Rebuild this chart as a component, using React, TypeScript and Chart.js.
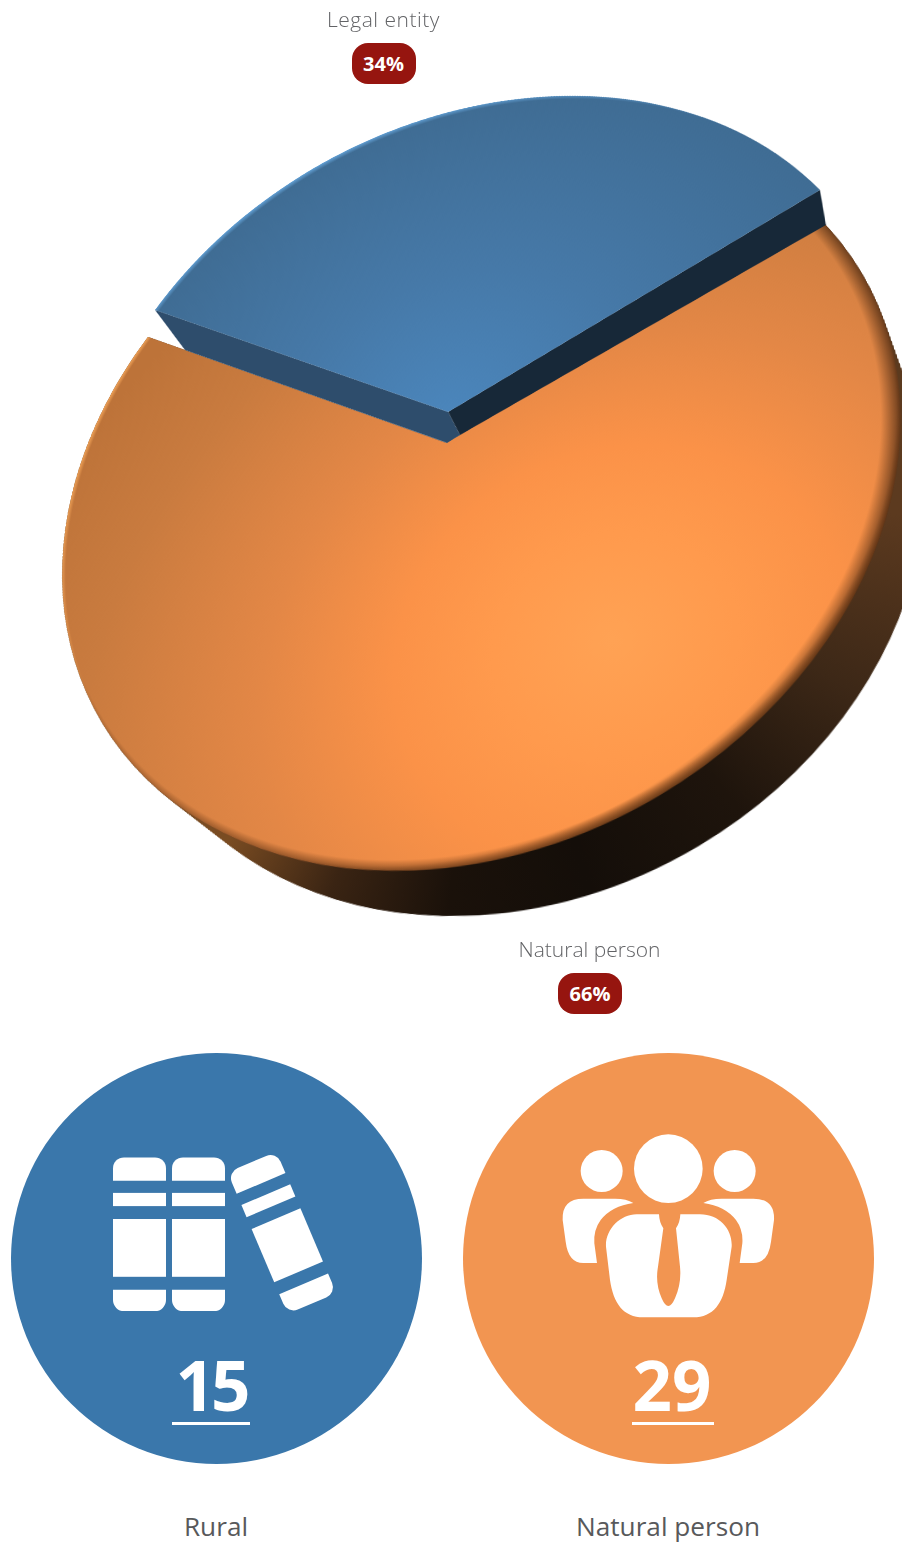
import React, { useEffect, useRef } from "react";
import { Chart, registerables } from "chart.js";

Chart.register(...registerables);

// Pie data
const pieCategories = ["Legal entity", "Natural person"];
const pieShares = [34, 66];
// Summary tiles
const statLabels = ["Rural", "Natural person"];
const statValues = [15, 29];

const FONT = '"Open Sans", "Noto Sans", sans-serif';
const BLUE = "#3a77ab";
const ORANGE = "#f29551";
const PILL = "#96150f";

// Off-screen drawing surface of each pie layer
const SURFACE = 1400;
const RADIUS = 500;
const MID = SURFACE / 2;

type Pt = [number, number];

// Where four rim points of the disc land on the page: rim A, rim B and their opposites
const ORANGE_RIM: Pt[] = [[148, 337], [820, 219], [858, 589], [76, 665]];
const BLUE_RIM: Pt[] = [[155, 310], [820, 190], [851, 552], [93, 624]];

// Solves the plane projection that takes the src points to the dst points
function projection(src: Pt[], dst: Pt[]): number[] {
  const m: number[][] = [];
  src.forEach(([x, y], i) => {
    const [u, v] = dst[i];
    m.push([x, y, 1, 0, 0, 0, -u * x, -u * y, u]);
    m.push([0, 0, 0, x, y, 1, -v * x, -v * y, v]);
  });
  for (let c = 0; c < 8; c++) {
    let p = c;
    for (let r = c + 1; r < 8; r++) if (Math.abs(m[r][c]) > Math.abs(m[p][c])) p = r;
    [m[c], m[p]] = [m[p], m[c]];
    for (let r = 0; r < 8; r++) {
      if (r === c) continue;
      const f = m[r][c] / m[c][c];
      for (let k = c; k < 9; k++) m[r][k] -= f * m[c][k];
    }
  }
  return m.map((row, i) => row[8] / row[i]);
}

const apply = (h: number[], [x, y]: Pt): Pt => {
  const w = h[6] * x + h[7] * y + 1;
  return [(h[0] * x + h[1] * y + h[2]) / w, (h[3] * x + h[4] * y + h[5]) / w];
};

// Surface positions of the two cut edges and their opposites, from the data
const halfSweep = ((pieShares[0] / (pieShares[0] + pieShares[1])) * 2 * Math.PI) / 2;
const discPoints: Pt[] = [
  [MID - RADIUS * Math.sin(halfSweep), MID - RADIUS * Math.cos(halfSweep)],
  [MID + RADIUS * Math.sin(halfSweep), MID - RADIUS * Math.cos(halfSweep)],
  [MID + RADIUS * Math.sin(halfSweep), MID + RADIUS * Math.cos(halfSweep)],
  [MID - RADIUS * Math.sin(halfSweep), MID + RADIUS * Math.cos(halfSweep)],
];

const orangeH = projection(discPoints, ORANGE_RIM);
const orangeInv = projection(ORANGE_RIM, discPoints);
const blueH = projection(discPoints, BLUE_RIM);
const blueInv = projection(BLUE_RIM, discPoints);

const matrix3d = (h: number[]) =>
  `matrix3d(${h[0]},${h[3]},0,${h[6]},${h[1]},${h[4]},0,${h[7]},0,0,1,0,${h[2]},${h[5]},0,1)`;

// Thickness of the disc: the underside sits lower and slightly smaller than the top
const wallFrom = apply(orangeInv, [478, 525]);
const wallTo = apply(orangeInv, [520, 581]);
const WALL_SCALE = 0.92;

// Wall colour by clockwise angle from the top of the disc
const WALL_STOPS: [number, string][] = [
  [0, "#5a3a1e"], [60, "#5a3a1e"], [100, "#5c3a1f"], [125, "#3d2817"],
  [145, "#1e140c"], [165, "#140e09"], [182, "#1a110a"], [198, "#3a2413"], [215, "#7a4c22"], [360, "#5a3a1e"],
];

const sharedOptions = {
  responsive: false,
  animation: false as const,
  devicePixelRatio: 1,
  layout: { padding: MID - RADIUS },
  rotation: (-halfSweep * 180) / Math.PI,
  plugins: { legend: { display: false }, tooltip: { enabled: false } },
  events: [],
};

const NONE = "rgba(0,0,0,0)";

function rim(ctx: CanvasRenderingContext2D, dx: number, dy: number, inner: number, color: string) {
  const r = RADIUS + Math.hypot(dx, dy) + 1;
  const g = ctx.createRadialGradient(MID + dx, MID + dy, 0, MID + dx, MID + dy, r);
  g.addColorStop(0, color.replace(/[\d.]+\)$/, "0)"));
  g.addColorStop(inner, color.replace(/[\d.]+\)$/, "0)"));
  g.addColorStop(1, color);
  ctx.fillStyle = g;
  ctx.fillRect(0, 0, SURFACE, SURFACE);
}

// Side of the disc: the orange slice repeated from the top face down to the underside
const wallPlugin = {
  id: "wallStack",
  beforeDatasetsDraw(chart: any) {
    const ctx = chart.ctx;
    const arc = chart.getDatasetMeta(0).data[1];
    const steps = 90;
    for (let i = 1; i <= steps; i++) {
      const t = i / steps;
      const s = 1 + t * (WALL_SCALE - 1);
      ctx.save();
      ctx.translate(wallFrom[0] + t * (wallTo[0] - wallFrom[0]), wallFrom[1] + t * (wallTo[1] - wallFrom[1]));
      ctx.scale(s, s);
      ctx.translate(-wallFrom[0], -wallFrom[1]);
      arc.draw(ctx);
      ctx.restore();
    }
  },
};

// Lighting on the orange top: falloff is in the fill, rims are painted on top
const orangeShade = {
  id: "orangeShade",
  afterDatasetsDraw(chart: any) {
    const ctx = chart.ctx;
    ctx.save();
    ctx.globalCompositeOperation = "source-atop";
    rim(ctx, -16, -2, 0.96, "rgba(45,22,6,0.7)");
    rim(ctx, -4, -12, 0.975, "rgba(70,35,10,0.65)");
    rim(ctx, 12, 4, 0.985, "rgba(255,175,95,0.9)");
    ctx.restore();
  },
};

// Cut faces of the raised blue slice, then its rim lighting
const blueFaces = {
  id: "blueFaces",
  beforeDatasetsDraw(chart: any) {
    const ctx = chart.ctx;
    const arc = chart.getDatasetMeta(0).data[0];
    const rimAt = (a: number): Pt => [arc.x + arc.outerRadius * Math.cos(a), arc.y + arc.outerRadius * Math.sin(a)];
    const a = rimAt(arc.startAngle);
    const b = rimAt(arc.endAngle);
    const c: Pt = [arc.x, arc.y];
    const face = (pts: Pt[], color: string) => {
      ctx.beginPath();
      pts.forEach(([x, y], i) => (i ? ctx.lineTo(x, y) : ctx.moveTo(x, y)));
      ctx.closePath();
      ctx.fillStyle = color;
      ctx.fill();
    };
    const crease = apply(blueInv, [460, 435]);
    const foot = apply(blueInv, [447, 443]);
    const aFoot = apply(blueInv, [185, 350]);
    const bFoot = apply(blueInv, [826, 225]);
    face([a, c, crease, foot, aFoot], "#2e4d6c");
    face([b, c, crease, bFoot], "#172838");
  },
  afterDatasetsDraw(chart: any) {
    const ctx = chart.ctx;
    const arc = chart.getDatasetMeta(0).data[0];
    ctx.save();
    ctx.globalCompositeOperation = "source-atop";
    ctx.beginPath();
    ctx.arc(arc.x, arc.y, arc.outerRadius + 1, arc.startAngle, arc.endAngle);
    ctx.lineTo(arc.x, arc.y);
    ctx.closePath();
    ctx.clip();
    rim(ctx, 6, 10, 0.98, "rgba(105,170,225,0.95)");
    ctx.restore();
  },
};

function PieLayer({ transform, colors, plugins }: { transform: string; colors: any; plugins: any[] }) {
  const ref = useRef<HTMLCanvasElement>(null);
  useEffect(() => {
    const chart = new Chart(ref.current!, {
      type: "pie",
      data: {
        labels: pieCategories,
        datasets: [{ data: pieShares, backgroundColor: colors, borderWidth: 0, hoverOffset: 0 }],
      },
      options: sharedOptions as any,
      plugins,
    });
    return () => chart.destroy();
  }, []);
  return (
    <div style={{ position: "absolute", left: 0, top: 0, width: SURFACE, height: SURFACE, transform, transformOrigin: "0 0" }}>
      <canvas ref={ref} width={SURFACE} height={SURFACE} />
    </div>
  );
}

const wallColors = (c: any) => {
  if (c.dataIndex !== 1) return NONE;
  const g = c.chart.ctx.createConicGradient(-Math.PI / 2, MID, MID);
  WALL_STOPS.forEach(([deg, col]) => g.addColorStop(deg / 360, col));
  return g;
};

const orangeColors = (c: any) => {
  if (c.dataIndex !== 1) return NONE;
  const [x, y] = apply(orangeInv, [612, 640]);
  const g = c.chart.ctx.createRadialGradient(x, y, 0, x, y, 780);
  g.addColorStop(0, "#ffa254");
  g.addColorStop(0.16, "#ff9a4d");
  g.addColorStop(0.3, "#fb9248");
  g.addColorStop(0.5, "#e38746");
  g.addColorStop(0.78, "#c97b3f");
  g.addColorStop(1, "#bd7339");
  return g;
};

const blueColors = (c: any) => {
  if (c.dataIndex !== 0) return NONE;
  const [x, y] = apply(blueInv, [450, 420]);
  const g = c.chart.ctx.createRadialGradient(x, y, 0, x, y, 560);
  g.addColorStop(0, "#4b86bc");
  g.addColorStop(0.4, "#4679a8");
  g.addColorStop(1, "#3e6a90");
  return g;
};

function Label({ x, y, text, size, color, weight, spacing }: { x: number; y: number; text: string; size: number; color: string; weight: number; spacing?: number }) {
  return (
    <div
      style={{
        position: "absolute", left: x - 200, top: y, width: 400, textAlign: "center",
        fontFamily: FONT, fontSize: size, color, fontWeight: weight, lineHeight: 1, whiteSpace: "nowrap", letterSpacing: spacing,
      }}
    >
      {text}
    </div>
  );
}

function Badge({ x, y, share }: { x: number; y: number; share: number }) {
  return (
    <div
      style={{
        position: "absolute", left: x - 32, top: y, width: 64, height: 41, borderRadius: 16, background: PILL,
        color: "#fff", fontFamily: FONT, fontWeight: 700, fontSize: 20, lineHeight: "41px", textAlign: "center",
      }}
    >
      {share}%
    </div>
  );
}

function Book({ transform }: { transform: string }) {
  return (
    <g transform={transform} fill="#fff">
      <path d="M-26.5 -67.2 V-79.5 a11 11 0 0 1 11 -11 H15.5 a11 11 0 0 1 11 11 V-67.2 Z" />
      <rect x={-26.5} y={-55} width={53} height={13.2} />
      <rect x={-26.5} y={-28.9} width={53} height={57.8} />
      <path d="M-26.5 41.8 H26.5 V52.2 a11 11 0 0 1 -11 11 H-15.5 a11 11 0 0 1 -11 -11 Z" />
    </g>
  );
}

function People() {
  const shoulder =
    "M130 236 L225 236 Q260 236 280 249 Q215 258 182 300 Q160 330 163 370 L171 429 L130 429 Q85 429 77 365 L68 300 Q65 236 130 236 Z";
  const torso =
    "M290 283 L357 283 Q358 308 370 325 L354 440 Q345 490 365 535 Q375 558 385 558 Q395 558 405 535 Q425 490 420 440 L408 325 Q420 308 421 283 L480 283 C540 283 578 330 575 380 L560 480 C550 550 520 592 460 592 L310 592 C250 592 220 550 210 480 L198 380 C195 330 240 283 290 283 Z";
  return (
    <g transform="translate(540 1120) scale(0.33333)" fill="#fff">
      <circle cx={385} cy={146} r={103} />
      <circle cx={185} cy={153} r={63} />
      <circle cx={584} cy={153} r={63} />
      <path d={shoulder} />
      <path d={shoulder} transform="translate(770 0) scale(-1 1)" />
      <path d={torso} />
    </g>
  );
}

function Tile({ cx, color, value, label, numX, spacing, lineFrom, lineTo }: { cx: number; color: string; value: number; label: string; numX: number; spacing: number; lineFrom: number; lineTo: number }) {
  return (
    <>
      <div
        style={{
          position: "absolute", left: cx - 205.5, top: 1052.5, width: 411, height: 411,
          borderRadius: "50%", background: color,
        }}
      />
      <div
        style={{
          position: "absolute", left: numX - 100, top: 1346, width: 200, textAlign: "center",
          fontFamily: FONT, fontWeight: 700, fontSize: 69, lineHeight: "76px", color: "#fff", letterSpacing: spacing,
        }}
      >
        {value}
      </div>
      <div style={{ position: "absolute", left: lineFrom, top: 1421.5, width: lineTo - lineFrom, height: 3, background: "#fff" }} />
      <Label x={cx} y={1513} text={label} size={26.2} color="#58595b" weight={400} />
    </>
  );
}

export default function App() {
  return (
    <div style={{ position: "absolute", left: 0, top: 0, width: 902, height: 1544, overflow: "hidden", background: "#fff" }}>
      <PieLayer transform={matrix3d(orangeH)} colors={wallColors} plugins={[wallPlugin]} />
      <PieLayer transform={matrix3d(orangeH)} colors={orangeColors} plugins={[orangeShade]} />
      <PieLayer transform={matrix3d(blueH)} colors={blueColors} plugins={[blueFaces]} />

      <Label x={383.5} y={9} text={pieCategories[0]} size={21} color="#626366" weight={300} spacing={0.5} />
      <Badge x={383.5} y={43} share={pieShares[0]} />
      <Label x={589.5} y={939} text={pieCategories[1]} size={21} color="#626366" weight={300} />
      <Badge x={590} y={973} share={pieShares[1]} />

      <Tile cx={216} color={BLUE} value={statValues[0]} label={statLabels[0]} numX={211} spacing={-4} lineFrom={172} lineTo={250} />
      <Tile cx={668} color={ORANGE} value={statValues[1]} label={statLabels[1]} numX={672} spacing={0} lineFrom={632} lineTo={714} />

      <svg width={902} height={1544} style={{ position: "absolute", left: 0, top: 0 }}>
        <Book transform="translate(139.5 1247.9)" />
        <Book transform="translate(198.5 1247.9)" />
        <Book transform="translate(287.3 1245.3) rotate(-23)" />
        <People />
      </svg>
    </div>
  );
}
